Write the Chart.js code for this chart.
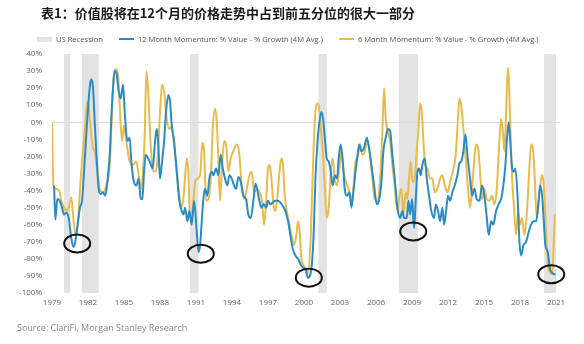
<!DOCTYPE html>
<html>
<head>
<meta charset="utf-8">
<script src="https://cdn.jsdelivr.net/npm/chart.js@4.4.1/dist/chart.umd.min.js"></script>
<style>
  body { margin: 0; width: 584px; height: 344px; background: #fff; position: relative; overflow: hidden; font-family: "Open Sans", sans-serif; }
  #title { position: absolute; left: 41px; top: 3px; font: 700 13px "Noto Sans CJK SC", sans-serif; color: #1a1a1a; white-space: nowrap; }
  #legend { position: absolute; left: 37px; top: 34px; font-size: 7.6px; color: #555; display: flex; align-items: center; white-space: nowrap; }
  #legend .sw { display: inline-block; width: 15px; margin-right: 4px; }
  #legend .rec { height: 5px; background: #e3e3e3; }
  #legend .ln { height: 2px; }
  #legend .txt { margin-right: 16px; }
  #wrap { position: absolute; left: 0; top: 0; width: 584px; height: 344px; }
  #source { position: absolute; left: 17px; top: 321px; font-size: 9px; color: #8a8a8a; white-space: nowrap; }
</style>
</head>
<body>
<div id="wrap"><canvas id="myChart"></canvas></div>
<div id="title">表1：价值股将在12个月的价格走势中占到前五分位的很大一部分</div>
<div id="legend">
  <span class="sw rec"></span><span class="txt">US Recession</span>
  <span class="sw ln" style="background:#2b8cc4"></span><span class="txt">12 Month Momentum: % Value - % Growth (4M Avg.)</span>
  <span class="sw ln" style="background:#e9bb4c"></span><span>6 Month Momentum: % Value - % Growth (4M Avg.)</span>
</div>
<div id="source">Source: ClariFi, Morgan Stanley Research</div>
<script>
"use strict";

// ========== DATA ==========
var tickYears = [1979, 1982, 1985, 1988, 1991, 1994, 1997, 2000, 2003, 2006, 2009, 2012, 2015, 2018, 2021];

var recessionStart = [1980.0, 1981.5, 1990.5, 2001.2, 2007.9, 2020.0];
var recessionEnd   = [1980.5, 1982.9, 1991.2, 2001.9, 2009.5, 2021.0];

// circled troughs (year, %)
var troughYears  = [1981.1, 1991.4, 2000.4, 2009.1, 2020.6];
var troughValues = [-71, -77, -91, -64, -89];

// 12 month momentum (blue)
var blueYears = [
  1979.17, 1979.28, 1979.44, 1979.64, 1979.83, 1980.0, 1980.19, 1980.39, 1980.61, 1980.78, 1980.94,
  1981.17, 1981.33, 1981.5, 1981.67, 1981.86, 1982.0, 1982.17, 1982.28, 1982.42, 1982.56, 1982.72, 1982.89,
  1983.06, 1983.25, 1983.44, 1983.61, 1983.81, 1983.94, 1984.08, 1984.22, 1984.36, 1984.56, 1984.72, 1984.92,
  1985.06, 1985.28, 1985.47, 1985.61, 1985.83, 1986.03, 1986.22, 1986.39, 1986.53, 1986.67, 1986.81,
  1987.0, 1987.14, 1987.39, 1987.59, 1987.73, 1987.86, 1988.0, 1988.14, 1988.34, 1988.5, 1988.7, 1988.84, 1988.98,
  1989.17, 1989.39, 1989.61, 1989.81, 1989.95, 1990.09, 1990.28, 1990.45, 1990.64, 1990.84,
  1991.06, 1991.2, 1991.34, 1991.48, 1991.61, 1991.75, 1991.95, 1992.11, 1992.31, 1992.45, 1992.67, 1992.86,
  1993.06, 1993.23, 1993.42, 1993.61, 1993.78, 1993.98, 1994.17, 1994.34, 1994.53, 1994.73, 1994.95,
  1995.17, 1995.36, 1995.56, 1995.78, 1995.95, 1996.09, 1996.28, 1996.45, 1996.64, 1996.84,
  1997.0, 1997.2, 1997.39, 1997.61, 1997.84, 1998.03, 1998.23, 1998.45, 1998.67, 1998.86,
  1999.06, 1999.28, 1999.5, 1999.7, 1999.89, 2000.11, 2000.34, 2000.53, 2000.67, 2000.81, 2000.95,
  2001.11, 2001.28, 2001.45, 2001.59, 2001.73, 2001.89, 2002.06, 2002.23, 2002.39, 2002.56, 2002.75, 2002.89,
  2003.06, 2003.23, 2003.39, 2003.59, 2003.78, 2003.95, 2004.14, 2004.3, 2004.45, 2004.59, 2004.78,
  2005.0, 2005.23, 2005.42, 2005.61, 2005.84, 2006.06, 2006.25, 2006.45, 2006.61, 2006.81,
  2007.0, 2007.17, 2007.36, 2007.56, 2007.78, 2008.0, 2008.2, 2008.34, 2008.56, 2008.7, 2008.84,
  2009.0, 2009.17, 2009.31, 2009.45, 2009.59, 2009.73, 2009.86, 2010.06, 2010.23, 2010.42, 2010.61, 2010.84, 2010.98,
  2011.17, 2011.34, 2011.53, 2011.67, 2011.84, 2012.0, 2012.17, 2012.36, 2012.56, 2012.78, 2012.95,
  2013.09, 2013.28, 2013.45, 2013.64, 2013.84, 2014.0, 2014.2, 2014.39, 2014.61, 2014.84,
  2015.03, 2015.23, 2015.39, 2015.59, 2015.78, 2016.0, 2016.23, 2016.42, 2016.61, 2016.78, 2016.92,
  2017.06, 2017.2, 2017.34, 2017.48, 2017.61, 2017.81, 2017.95, 2018.09, 2018.28, 2018.5, 2018.73, 2018.92,
  2019.11, 2019.34, 2019.5, 2019.67, 2019.84, 2019.98, 2020.11, 2020.31, 2020.5, 2020.67, 2020.84, 2020.95
];
var blueValues = [
  -37, -57, -45, -46, -50, -54, -53, -56, -68, -73, -70,
  -58, -50, -46, -29, -7, 8, 22, 25, 20, 0, -21, -39,
  -42, -41, -43, -35, -19, 2, 20, 30, 29, 18, 14, 22,
  6, -11, -9, -23, -35, -37, -33, -45, -45, -29, -19,
  -21, -23, -27, -11, -4, -13, -33, -25, -11, 6, 16, 12, -2,
  -11, -29, -46, -52, -54, -50, -58, -52, -60, -46,
  -64, -76, -72, -58, -45, -39, -43, -33, -29, -31, -27, -31,
  -19, -27, -33, -37, -31, -33, -37, -39, -32, -35, -43,
  -45, -54, -56, -46, -36, -39, -46, -50, -48, -50,
  -46, -48, -47, -46, -46, -47, -49, -52, -58, -66,
  -74, -78, -80, -83, -85, -86, -91, -89, -82, -64, -33,
  -13, 0, 6, 2, -9, -21, -23, -29, -37, -31, -33, -21,
  -13, -23, -39, -43, -41, -50, -39, -28, -20, -13, -17,
  -15, -9, -15, -25, -37, -48, -46, -35, -17, -9,
  -4, -5, -19, -33, -50, -56, -52, -56, -56, -46, -54,
  -45, -62, -45, -29, -27, -31, -25, -21, -33, -43, -52, -56, -48,
  -52, -58, -50, -60, -52, -43, -46, -41, -37, -31, -24,
  -23, -17, -7, -21, -33, -43, -39, -45, -46, -37,
  -43, -56, -66, -58, -60, -52, -48, -45, -37, -25, -9,
  0, -13, -27, -29, -27, -46, -70, -78, -72, -70, -64, -60,
  -58, -58, -50, -37, -43, -58, -72, -76, -86, -88, -89, -89
];

// 6 month momentum (yellow)
var yellowYears = [
  1979.0, 1979.12, 1979.36, 1979.64, 1979.78, 1980.0, 1980.19, 1980.39, 1980.61, 1980.83, 1980.97,
  1981.17, 1981.39, 1981.58, 1981.78, 1981.94, 1982.06, 1982.22, 1982.42, 1982.56, 1982.78, 1982.97,
  1983.25, 1983.53, 1983.81, 1984.0, 1984.14, 1984.31, 1984.5, 1984.64, 1984.83,
  1985.0, 1985.19, 1985.47, 1985.75, 1986.03, 1986.22, 1986.44, 1986.58, 1986.72, 1986.86,
  1987.0, 1987.22, 1987.42, 1987.59, 1987.78, 1988.0, 1988.17, 1988.34, 1988.56, 1988.78, 1988.98,
  1989.17, 1989.39, 1989.61, 1989.81, 1990.0, 1990.23, 1990.36, 1990.5, 1990.73, 1990.92,
  1991.11, 1991.34, 1991.53, 1991.67, 1991.84, 1992.03, 1992.23, 1992.39, 1992.59, 1992.73, 1992.86,
  1993.0, 1993.14, 1993.34, 1993.5, 1993.7, 1993.89, 1994.11, 1994.39, 1994.61, 1994.81,
  1995.0, 1995.23, 1995.45, 1995.64, 1995.84, 1996.09, 1996.28, 1996.5, 1996.67, 1996.84,
  1997.0, 1997.14, 1997.28, 1997.45, 1997.61, 1997.75, 1997.95, 1998.11, 1998.25, 1998.39, 1998.56, 1998.73, 1998.95,
  1999.17, 1999.36, 1999.5, 1999.64, 1999.78, 1999.98, 2000.17, 2000.34, 2000.53, 2000.67, 2000.81, 2000.95,
  2001.09, 2001.23, 2001.36, 2001.56, 2001.73, 2001.89, 2002.06, 2002.23, 2002.39, 2002.56, 2002.75, 2002.95,
  2003.11, 2003.31, 2003.5, 2003.73, 2003.95, 2004.14, 2004.31, 2004.45, 2004.67, 2004.86,
  2005.06, 2005.28, 2005.5, 2005.7, 2005.89, 2006.11, 2006.34, 2006.53, 2006.67, 2006.81, 2006.95,
  2007.17, 2007.36, 2007.56, 2007.78, 2007.95, 2008.11, 2008.28, 2008.48, 2008.61, 2008.75, 2008.89,
  2009.03, 2009.23, 2009.39, 2009.53, 2009.67, 2009.81, 2009.95, 2010.09, 2010.28, 2010.5, 2010.7, 2010.89,
  2011.11, 2011.34, 2011.53, 2011.73, 2011.95, 2012.17, 2012.39, 2012.64, 2012.81, 2012.95,
  2013.09, 2013.28, 2013.45, 2013.64, 2013.84, 2014.0, 2014.2, 2014.34, 2014.5, 2014.67, 2014.84,
  2015.03, 2015.23, 2015.45, 2015.67, 2015.86, 2016.06, 2016.23, 2016.42, 2016.56, 2016.7, 2016.84, 2016.98,
  2017.06, 2017.2, 2017.34, 2017.48, 2017.67, 2017.84, 2018.0, 2018.17, 2018.36, 2018.56, 2018.73, 2018.92,
  2019.06, 2019.23, 2019.39, 2019.56, 2019.75, 2019.89, 2020.03, 2020.17, 2020.34, 2020.5, 2020.67, 2020.78, 2020.89
];
var yellowValues = [
  0, -37, -39, -41, -46, -50, -52, -50, -44, -60, -66,
  -58, -33, -17, 0, 12, 9, -4, -15, -17, -29, -39,
  -41, -37, -25, 6, 26, 31, 28, 10, -11,
  -2, -11, -23, -25, -23, -31, -39, -29, -9, 30,
  20, -13, -28, -29, -23, 6, 22, 18, 2, -4, -2,
  -13, -27, -43, -50, -41, -21, -29, -56, -50, -35,
  -33, -31, -12, -17, -46, -45, -33, -4, 8, 0, -21,
  -46, -29, -11, -13, -29, -21, -17, -13, -19, -37,
  -45, -39, -31, -29, -41, -39, -41, -46, -60, -46,
  -27, -25, -33, -48, -52, -46, -29, -21, -25, -43, -52, -58, -66,
  -72, -66, -58, -64, -80, -84, -86, -88, -72, -43, -13, 6,
  11, 10, 0, -17, -37, -56, -50, -29, -21, -33, -37, -27,
  -17, -29, -35, -39, -45, -37, -22, -21, -13, -19,
  -17, -11, -19, -33, -45, -46, -33, -5, 20, 2, -5,
  -11, -25, -37, -52, -43, -39, -54, -41, -45, -33, -23,
  -35, -33, -17, -5, 11, 6, -11, -25, -27, -33, -33, -41,
  -39, -33, -31, -37, -41, -35, -29, -19, 0, 14,
  10, -4, -19, -37, -50, -39, -21, -13, -15, -29, -45,
  -39, -45, -46, -43, -48, -39, -17, 2, -5, -17, 6, 32,
  26, -4, -33, -48, -66, -52, -60, -56, -66, -54, -33, -13,
  -15, -33, -56, -46, -33, -31, -43, -64, -84, -88, -89, -76, -54
];

var BLUE = "#2b8cc4";
var YELLOW = "#e9bb4c";

function toPoints(xs, ys) {
  return xs.map((x, i) => ({ x: x, y: ys[i] }));
}

// ========== PLUGINS ==========
var recessionBands = {
  id: "recessionBands",
  beforeDraw(chart) {
    const { ctx, chartArea, scales } = chart;
    ctx.save();
    ctx.fillStyle = "#e3e3e3";
    recessionStart.forEach((s, i) => {
      const x0 = scales.x.getPixelForValue(s);
      const x1 = scales.x.getPixelForValue(recessionEnd[i]);
      ctx.fillRect(x0, chartArea.top, x1 - x0, chartArea.bottom - chartArea.top);
    });
    ctx.restore();
  }
};

var troughCircles = {
  id: "troughCircles",
  afterDatasetsDraw(chart) {
    const { ctx, scales } = chart;
    ctx.save();
    ctx.strokeStyle = "#111";
    ctx.lineWidth = 2;
    troughYears.forEach((yr, i) => {
      const cx = scales.x.getPixelForValue(yr);
      const cy = scales.y.getPixelForValue(troughValues[i]);
      ctx.beginPath();
      ctx.ellipse(cx, cy, 13, 9, 0, 0, Math.PI * 2);
      ctx.stroke();
    });
    ctx.restore();
  }
};

// ========== CHART ==========
var chartCanvas = document.getElementById("myChart");
var ctx = chartCanvas.getContext("2d");

new Chart(ctx, {
  type: "line",
  data: {
    datasets: [
      {
        label: "12 Month Momentum: % Value - % Growth (4M Avg.)",
        data: toPoints(blueYears, blueValues),
        borderColor: BLUE,
        borderWidth: 2,
        pointRadius: 0,
        cubicInterpolationMode: "monotone",
        fill: false
      },
      {
        label: "6 Month Momentum: % Value - % Growth (4M Avg.)",
        data: toPoints(yellowYears, yellowValues),
        borderColor: YELLOW,
        borderWidth: 2,
        pointRadius: 0,
        cubicInterpolationMode: "monotone",
        fill: false
      }
    ]
  },
  plugins: [recessionBands, troughCircles],
  options: {
    responsive: true,
    maintainAspectRatio: false,
    animation: false,
    layout: { padding: { top: 54, right: 24, bottom: 0, left: 0 } },
    plugins: {
      legend: { display: false },
      tooltip: { enabled: false }
    },
    scales: {
      x: {
        type: "linear",
        min: 1979,
        max: 2021.33,
        afterBuildTicks: scale => { scale.ticks = tickYears.map(v => ({ value: v })); },
        afterFit: scale => { scale.height = 51; },
        grid: { display: false, drawTicks: false },
        border: { display: false },
        ticks: {
          autoSkip: false,
          maxRotation: 0,
          padding: 5,
          color: "#666",
          font: { family: "Open Sans", size: 8 },
          callback: v => String(v)
        }
      },
      y: {
        min: -100,
        max: 40,
        afterFit: scale => { scale.width = 52; },
        grid: {
          drawTicks: false,
          color: c => (c.tick && c.tick.value === 0 ? "#dcdcdc" : "rgba(0,0,0,0)"),
          lineWidth: 1
        },
        border: { display: false },
        ticks: {
          stepSize: 10,
          padding: 10,
          color: "#666",
          font: { family: "Open Sans", size: 8 },
          callback: v => v + "%"
        }
      }
    }
  }
});
</script>
</body>
</html>
